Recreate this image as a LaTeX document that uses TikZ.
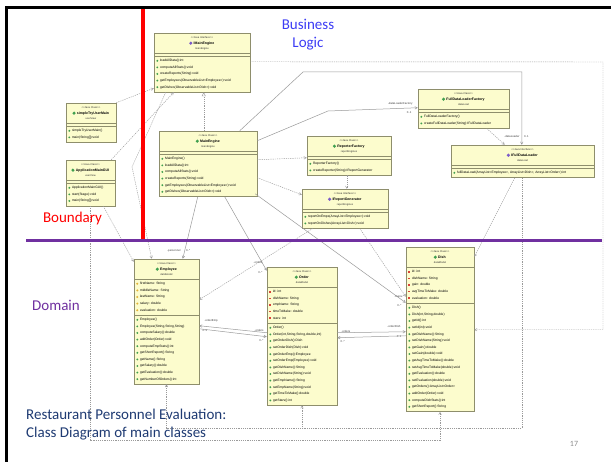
\documentclass[tikz,border=0pt]{standalone}
\usepackage{fontspec}
\setmainfont{Carlito}
\newfontfamily\umlfont{Liberation Sans}
\usetikzlibrary{arrows.meta,calc,shapes.geometric}
\definecolor{cdPaper}{HTML}{FCFCCD}
\definecolor{cdFrame}{HTML}{8E8E6C}
\definecolor{cdLine}{HTML}{9A9A9A}
\definecolor{cdGreen}{HTML}{3F9F4F}
\definecolor{cdRed}{HTML}{D9423A}
\definecolor{cdAmber}{HTML}{E3B33A}
\definecolor{cdViolet}{HTML}{7B5BC9}
\definecolor{cdBlue}{HTML}{3C3CF5}
\definecolor{cdPurple}{HTML}{7030A0}
\definecolor{cdNavy}{HTML}{1F3B73}
\tikzset{
 slide/.style={line cap=butt,line join=miter},
 umlframe/.style={draw=cdFrame,fill=cdPaper,line width=.5pt,inner sep=0pt},
 umlrule/.style={draw=cdFrame,line width=.4pt},
 stereo/.style={font=\umlfont\fontsize{2.6}{3}\selectfont,inner sep=0pt,text=black!80},
 umltitle/.style={font=\umlfont\bfseries\fontsize{3.5}{4}\selectfont,inner sep=0pt},
 umltext/.style={font=\umlfont\fontsize{3.3}{4}\selectfont,inner sep=0pt,anchor=west},
 classIcon/.style={circle,inner sep=0pt,minimum size=3.4pt,fill=#1},
 pub/.style={circle,fill=cdGreen,inner sep=0pt,minimum size=2.1pt},
 ctor/.style={pub},
 stat/.style={pub},
 priv/.style={rectangle,fill=cdRed,inner sep=0pt,minimum size=1.7pt},
 prot/.style={diamond,fill=cdAmber,inner sep=0pt,minimum size=2.4pt},
 dep/.style={draw=cdLine,line width=.45pt,dash pattern=on 1.2pt off 1pt,-{Straight Barb[length=2.4pt,width=2.6pt]}},
 assoc/.style={draw=cdLine,line width=.5pt,-{Straight Barb[length=2.4pt,width=2.6pt]}},
 realize/.style={draw=cdLine,line width=.45pt,dash pattern=on 1.2pt off 1pt,-{Triangle[open,length=4pt,width=4pt]}},
 role/.style={font=\umlfont\fontsize{2.8}{3}\selectfont,inner sep=0pt,text=black!75},
 heading/.style={font=\fontsize{15}{18}\selectfont,inner sep=0pt}
}
\newcommand{\umlBox}[9]{%
 \if#5C\def\umlKind{Class}\def\umlIconCol{cdGreen}\else\def\umlKind{Interface}\def\umlIconCol{cdViolet}\fi
 \def\umlAtt{#8}\gdef\nA{0}\gdef\nM{0}%
 \ifx\umlAtt\empty\else\foreach \mk/\txt [count=\i] in {#8} {\xdef\nA{\i}}\fi
 \foreach \mk/\txt [count=\i] in {#9} {\xdef\nM{\i}}%
 \ifnum\nA=0 \def\aEnd{23}\else\pgfmathsetmacro\aEnd{23+\nA*6.6}\fi
 \pgfmathsetmacro\bEnd{\aEnd+3+\nM*6.6}%
 \begin{scope}[shift={(#2,#3)}]
 \node[umlframe,minimum width=#4pt,minimum height=\bEnd pt] (#1) at (#4/2,\bEnd/2) {};
 \draw[umlrule] (0,20)--(#4,20) (0,\aEnd)--(#4,\aEnd);
 \node[stereo] at (#4/2,4.4) {<<Java \umlKind>>};
 \node[umltitle,label={[classIcon=\umlIconCol,label distance=.8pt]left:{}}] at (#4/2+2,10.2) {#6};
 \node[stereo] at (#4/2,15.6) {#7};
 \ifx\umlAtt\empty\else
 \foreach \mk/\txt [count=\i] in {#8} {
  \node[\mk] at (3.3,18.2+6.6*\i) {};
  \node[umltext] at (5.8,18.2+6.6*\i) {\txt};}\fi
 \foreach \mk/\txt [count=\i] in {#9} {
  \node[\mk] at (3.3,\aEnd-1.8+6.6*\i) {};
  \node[umltext] at (5.8,\aEnd-1.8+6.6*\i) {\txt};}
 \end{scope}}

\begin{document}
\begin{tikzpicture}[slide,x=1pt,y=-1pt]
 \useasboundingbox (0,0) rectangle (611,462);
 \fill[white] (0,0) rectangle (611,462);
 \umlBox{ime}{154}{33}{96}{I}{IMainEngine}{mainEngine}{}{pub/loadAllData():int, pub/computeAllStats():void, pub/createReports(String):void, pub/getEmployees(ObservableList<Employee>):void, pub/getDishes(ObservableList<Dish>):void}
 \umlBox{me}{159}{131}{98}{C}{MainEngine}{mainEngine}{}{ctor/MainEngine(), pub/loadAllData():int, pub/computeAllStats():void, pub/createReports(String):void, pub/getEmployees(ObservableList<Employee>):void, pub/getDishes(ObservableList<Dish>):void}
 \umlBox{stu}{66}{103}{50}{C}{simpleTryUserMain}{userView}{}{ctor/simpleTryUserMain(), stat/main(String[]):void}
 \umlBox{gui}{66}{160}{49}{C}{ApplicationMainGUI}{userView}{}{ctor/ApplicationMainGUI(), pub/start(Stage):void, stat/main(String[]):void}
 \umlBox{fdlf}{418}{89}{91}{C}{FullDataLoaderFactory}{dataLoad}{}{ctor/FullDataLoaderFactory(), pub/createFullDataLoader(String):IFullDataLoader}
 \umlBox{fdl}{451}{145}{143}{I}{IFullDataLoader}{dataLoad}{}{pub/{fullDataLoad(ArrayList<Employee>, ArrayList<Dish>, ArrayList<Order>):int}}
 \umlBox{rf}{307}{136}{84}{C}{ReporterFactory}{reportEngines}{}{ctor/ReporterFactory(), pub/createReporter(String):IReportGenerator}
 \umlBox{irg}{302}{189}{86}{I}{IReportGenerator}{reportEngines}{}{pub/reportOnEmps(ArrayList<Employee>):void, pub/reportOnDishes(ArrayList<Dish>):void}
 \umlBox{emp}{134}{259}{65}{C}{Employee}{dataModel}{prot/firstName: String, prot/middleName: String, prot/lastName: String, prot/salary: double, prot/evaluation: double}{ctor/Employee(), ctor/{Employee(String,String,String)}, pub/computeSalary():double, pub/addOrder(Order):void, pub/computeEmpStats():int, pub/getShortReport():String, pub/getName():String, pub/getSalary():double, pub/getEvaluation():double, pub/getNumberOfOrders():int}
 \umlBox{ord}{267}{267}{70}{C}{Order}{dataModel}{priv/id: int, priv/dishName: String, priv/empName: String, priv/timeToMake: double, priv/stars: int}{ctor/Order(), ctor/{Order(int,String,String,double,int)}, pub/getOrderDish():Dish, pub/setOrderDish(Dish):void, pub/getOrderEmp():Employee, pub/setOrderEmp(Employee):void, pub/getDishName():String, pub/setDishName(String):void, pub/getEmpName():String, pub/setEmpName(String):void, pub/getTimeToMake():double, pub/getStars():int}
 \umlBox{dish}{406}{247}{68}{C}{Dish}{dataModel}{priv/id: int, priv/dishName: String, priv/gain: double, priv/avgTimeToMake: double, priv/evaluation: double}{ctor/Dish(), ctor/{Dish(int,String,double)}, pub/getId():int, pub/setId(int):void, pub/getDishName():String, pub/setDishName(String):void, pub/getGain():double, pub/setGain(double):void, pub/getAvgTimeToMake():double, pub/setAvgTimeToMake(double):void, pub/getEvaluation():double, pub/setEvaluation(double):void, pub/getOrders():ArrayList<Order>, pub/addOrder(Order):void, pub/computeDishStats():int, pub/getShortReport():String}
 \coordinate (kink) at (132,167);
 \coordinate (elbow) at (328,111);
 \coordinate (crest) at (303,72);
 \coordinate (rim) at (603,62);
 \coordinate (floorA) at (0,428);
 \coordinate (floorB) at (0,440);
 \draw[realize] ($(me.north west)+(45,0)$) -- ($(ime.south west)+(50,0)$);
 \draw[dep] (stu.north east) -- ($(ime.south west)+(0,-4)$);
 \draw[dep] ($(gui.north east)+(-4,0)$) -- ($(ime.south west)+(20,0)$);
 \draw[dep] ($(ime.south west)+(12,0)$) -- (kink) -- ($(emp.north west)+(18,0)$);
 \draw[dep] ($(gui.south east)+(-12,0)$) -- ($(emp.north west)+(0,3)$);
 \draw[dep] ($(gui.south west)+(24,0)$) coordinate (g) -- (g |- floorB) -- (dish.south |- floorB) -- (dish.south);
 \draw[assoc] ($(me.south west)+(39,0)$) -- ($(emp.north west)+(49,0)$)
  node[role,anchor=east,xshift=-2pt,yshift=8pt] {-personnel} node[role,anchor=west,xshift=3pt,yshift=8pt] {0..*};
 \draw[assoc] ($(me.south west)+(66,0)$) -- ($(ord.north west)+(0,4)$)
  node[role,anchor=east,xshift=-4pt,yshift=8pt] {-orders} node[role,anchor=east,xshift=-4pt,yshift=-2pt] {0..*};
 \draw[assoc] ($(me.south east)+(-2,-3)$) -- ($(dish.north west)+(0,56)$)
  node[role,anchor=east,xshift=-3pt,yshift=6pt] {-menu} node[role,anchor=east,xshift=-4pt,yshift=-3pt] {0..*};
 \draw[dep] ($(me.north east)+(0,29)$) -- ($(rf.north west)+(0,22)$);
 \draw[dep] ($(me.north east)+(0,47)$) -- ($(irg.north west)+(0,6)$);
 \draw[dep] ($(rf.south west)+(40,0)$) -- ($(irg.north west)+(45,0)$);
 \draw[dep] ($(irg.south west)+(11,0)$) -- ($(emp.north east)+(0,41)$);
 \draw[dep] ($(irg.south west)+(58,0)$) -- ($(dish.north west)+(0,50)$);
 \draw[assoc] ($(me.north east)+(0,10)$) -- (elbow) -- ($(fdlf.north west)+(0,19)$)
  node[role,anchor=east,xshift=-5pt,yshift=4pt] {-dataLoaderFactory} node[role,anchor=east,xshift=-6pt,yshift=-5pt] {0..1};
 \draw[assoc] ($(me.north west)+(81,0)$) -- (crest) -| ($(fdl.north west)+(71,0)$)
  node[role,anchor=east,xshift=-2pt,yshift=8pt] {-dataLoader} node[role,anchor=west,xshift=2pt,yshift=8pt] {0..1};
 \draw[dep] ($(fdlf.south west)+(69,0)$) -- ($(fdl.north west)+(54,0)$);
 \draw[dep] ($(ime.north east)+(0,29)$) -- (rim) |- ($(dish.north east)+(0,83)$);
 \draw[dep] ($(fdl.south west)+(64,0)$) -- ($(dish.north east)+(0,10)$);
 \draw[dep] ($(fdl.south west)+(71,0)$) coordinate (f) -- (f |- floorA) -| (emp.south);
 \draw[dep] (f) -- (f |- floorA) -| (ord.south);
 \draw[assoc] ($(ord.north west)+(0,66)$) -- ($(emp.north east)+(0,67)$)
  node[role,anchor=west,xshift=5pt,yshift=5pt] {-orderEmp} node[role,anchor=west,xshift=3pt,yshift=-5pt] {0..1};
 \draw[assoc] ($(emp.north east)+(0,70)$) -- ($(ord.north west)+(0,70)$)
  node[role,anchor=east,xshift=-3pt,yshift=6pt] {-orders} node[role,anchor=east,xshift=-3pt,yshift=-4pt] {0..*};
 \draw[assoc] ($(ord.north east)+(0,66)$) -- ($(dish.north west)+(0,85)$)
  node[role,anchor=east,xshift=-5pt,yshift=5pt] {-orderDish} node[role,anchor=east,xshift=-4pt,yshift=-5pt] {0..1};
 \draw[assoc] ($(dish.north west)+(0,89)$) -- ($(ord.north east)+(0,71)$)
  node[role,anchor=west,xshift=4pt,yshift=6pt] {-orders} node[role,anchor=west,xshift=3pt,yshift=-4pt] {0..*};
 \draw[red,line width=3.5pt] (143,9) -- (143,239);
 \draw[cdPurple,line width=3pt] (26,240.5) -- (602,240.5);
 \draw[line width=3pt] (6.5,462) -- (6.5,7.5) -- (611,7.5);
 \node[heading,text=cdBlue,align=center] (biz) at (308,35) {Business\\Logic};
 \node[heading,text=red] (bnd) at (72.5,219) {Boundary};
 \node[heading,text=cdPurple] (dom) at (56,305) {Domain};
 \node[heading,text=cdNavy,align=left,anchor=base west] (cap) at (26,438) {Restaurant Personnel Evaluation:\\Class Diagram of main classes};
 \node[font=\fontsize{8}{9}\selectfont,text=black!45] (pg) at (574,444) {17};
\end{tikzpicture}
\end{document}
